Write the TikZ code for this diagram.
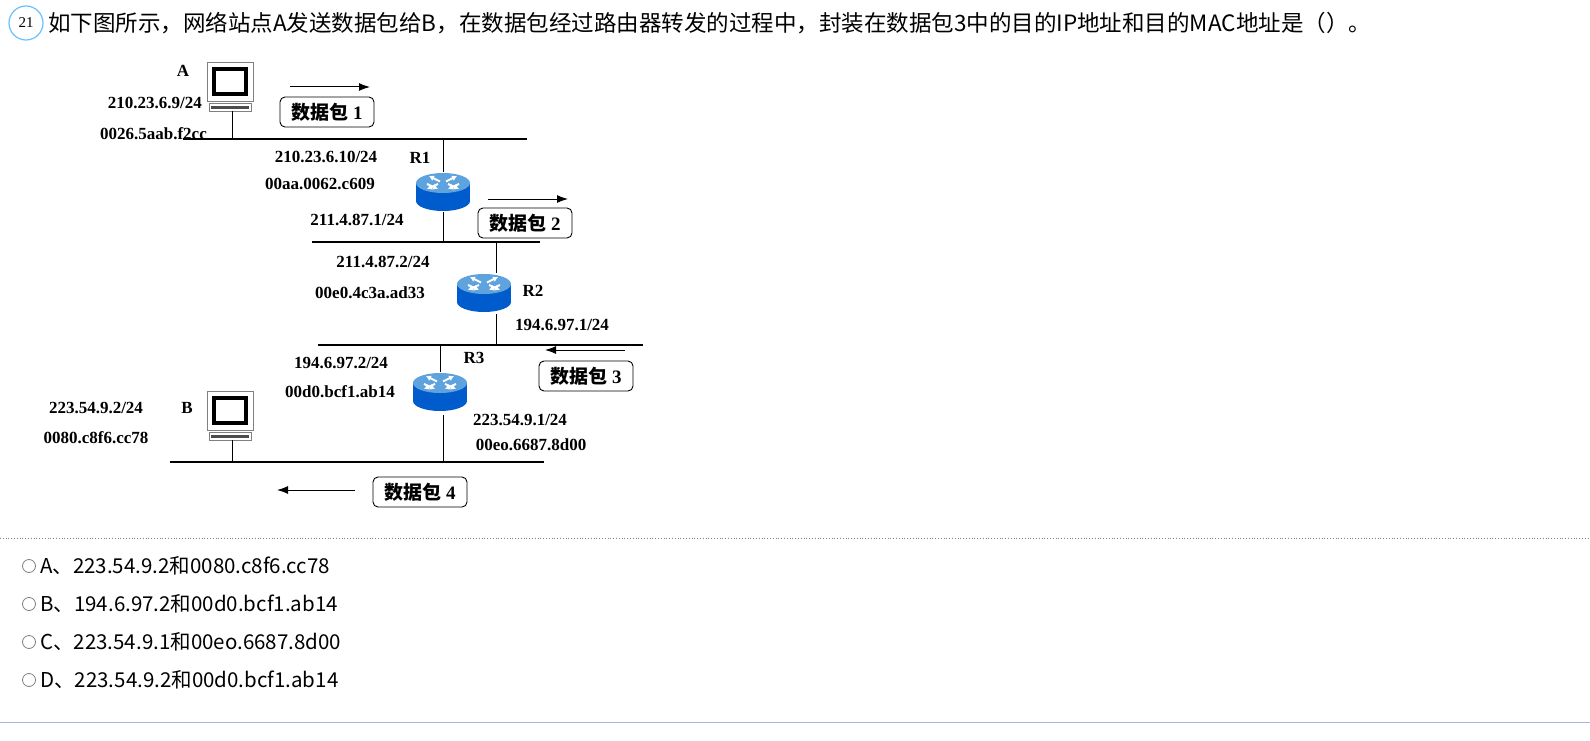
\documentclass[tikz,border=0pt]{standalone}
\usepackage{fontspec}
\usetikzlibrary{arrows.meta}
\setmainfont{Liberation Serif}
\newfontfamily\cjk{Noto Sans CJK SC}
\begin{document}
\begin{tikzpicture}[x=1pt,y=-1pt,
 lab/.style={font=\fontsize{17}{17}\selectfont\bfseries,inner sep=0},
 q/.style={font=\cjk\fontsize{22.5}{22.5}\selectfont,inner sep=0,anchor=west},
 opt/.style={font=\cjk\fontsize{20.5}{20.5}\selectfont,inner sep=0,anchor=west},
 bus/.style={line width=1.8pt},
 wire/.style={line width=0.9pt},
 arr/.style={line width=1pt,-{Latex[length=11pt,width=8pt]}},
 pkt/.style={draw,rounded corners=5pt,line width=0.9pt,minimum width=94pt,minimum height=30pt,inner sep=0,font=\fontsize{19}{19}\selectfont\bfseries}]
\useasboundingbox (0,0) rectangle (1590,741);
\fill[white] (0,0) rectangle (1590,741);
% header
\node[circle,draw=blue!40!cyan!60,line width=1.2pt,minimum size=34pt,inner sep=0,font=\fontsize{15}{15}\selectfont] (num) at (26,23) {21};
\node[q] (title) at (48,23) {如下图所示，网络站点A发送数据包给B，在数据包经过路由器转发的过程中，封装在数据包3中的目的IP地址和目的MAC地址是（）。};
% routers & computers
\tikzset{router/.pic={
  \fill[blue!55!cyan!80!black] (-27,0) rectangle (27,18);
  \fill[blue!55!cyan!80!black] (0,18) ellipse[x radius=27,y radius=10];
  \fill[cyan!65!blue!65] (0,0) ellipse[x radius=27,y radius=10];
  \foreach \a/\b in {-1/-1,1/-1}{
    \draw[white,line width=2pt,-{Latex[length=5pt,width=6pt]}] (\a*3,-1.5) -- (\a*14,-7);}
  \foreach \a in {-1,1}{
    \draw[white,line width=2pt,-{Latex[length=5pt,width=6pt]}] (\a*16,1) -- (\a*5,6);
    \draw[white,line width=2pt,-{Latex[length=5pt,width=6pt]}] (\a*5,1) -- (\a*16,6);}
 },
 computer/.pic={
  \draw[gray,fill=white,line width=0.9pt] (-23,-27) rectangle (23,12);
  \draw[black,line width=3.5pt] (-16,-20) rectangle (16,5);
  \draw[gray,fill=white] (-21,14) rectangle (21,22);
  \fill[black!70] (-19,17) rectangle (19,20);
 }}
\pic at (230,89) {computer};
\pic at (230,418) {computer};
\coordinate (A) at (232,111);
\coordinate (B) at (232,440);
\pic at (443,183) {router};
\pic at (484,284) {router};
\pic at (440,383) {router};
\coordinate (R1t) at (443,172); \coordinate (R1b) at (443,212);
\coordinate (R2t) at (496,273); \coordinate (R2b) at (496,314);
\coordinate (R3t) at (440,372); \coordinate (R3b) at (443,415);
% buses
\draw[bus] (183,139) coordinate (b1l) -- (527,139) coordinate (b1r);
\draw[bus] (312,242) -- (540,242);
\draw[bus] (318,345) -- (643,345);
\draw[bus] (170,462) -- (544,462);
\draw[wire] (A) -- (A|-b1l);
\draw[wire] (R1t) -- (443,139);
\draw[wire] (R1b) -- (443,242);
\draw[wire] (R2t) -- (496,242);
\draw[wire] (R2b) -- (496,345);
\draw[wire] (R3t) -- (440,345);
\draw[wire] (R3b) -- (443,462);
\draw[wire] (B) -- (232,462);
% labels
\node[lab] (la) at (183,71) {A};
\node[lab,anchor=east] (a1) at (202,103) {210.23.6.9/24};
\node[lab,anchor=east] (a2) at (207,134) {0026.5aab.f2cc};
\node[lab] (r1) at (420,158) {R1};
\node[lab] (r1a) at (326,157) {210.23.6.10/24};
\node[lab] (r1b) at (320,184) {00aa.0062.c609};
\node[lab] (r1c) at (357,220) {211.4.87.1/24};
\node[lab] (r2a) at (383,262) {211.4.87.2/24};
\node[lab] (r2b) at (370,293) {00e0.4c3a.ad33};
\node[lab] (r2) at (533,291) {R2};
\node[lab] (r2c) at (562,325) {194.6.97.1/24};
\node[lab] (r3) at (474,358) {R3};
\node[lab] (r3a) at (341,363) {194.6.97.2/24};
\node[lab] (r3b) at (340,392) {00d0.bcf1.ab14};
\node[lab] (r3c) at (520,420) {223.54.9.1/24};
\node[lab] (r3d) at (531,445) {00eo.6687.8d00};
\node[lab] (lb) at (187,408) {B};
\node[lab] (b1) at (96,408) {223.54.9.2/24};
\node[lab] (b2) at (96,438) {0080.c8f6.cc78};
% packets
\node[pkt] (p1) at (327,112) {{\cjk 数据包} 1};
\node[pkt] (p2) at (525,223) {{\cjk 数据包} 2};
\node[pkt] (p3) at (586,376) {{\cjk 数据包} 3};
\node[pkt] (p4) at (420,492) {{\cjk 数据包} 4};
\coordinate (p1s) at (290,87); \coordinate (p1e) at (370,87);
\coordinate (p2s) at (488,199); \coordinate (p2e) at (568,199);
\coordinate (p3s) at (625,350); \coordinate (p3e) at (545,350);
\coordinate (p4s) at (355,490); \coordinate (p4e) at (277,490);
\draw[arr] (p1s) -- (p1e);
\draw[arr] (p2s) -- (p2e);
\draw[arr] (p3s) -- (p3e);
\draw[arr] (p4s) -- (p4e);
% separator & options
\draw[gray,dotted,line width=0.8pt] (0,538) -- (1590,538);
\foreach \y/\t [count=\i] in {566/{A、223.54.9.2和0080.c8f6.cc78},604/{B、194.6.97.2和00d0.bcf1.ab14},642/{C、223.54.9.1和00eo.6687.8d00},680/{D、223.54.9.2和00d0.bcf1.ab14}}{
  \node[circle,draw=gray,line width=0.8pt,minimum size=13pt,inner sep=0] (c\i) at (29,\y) {};
  \node[opt] (o\i) at (40,\y) {\t};
}
\draw[cyan!40!blue!35,line width=1pt] (0,722) -- (1590,722);
\end{tikzpicture}
\end{document}
